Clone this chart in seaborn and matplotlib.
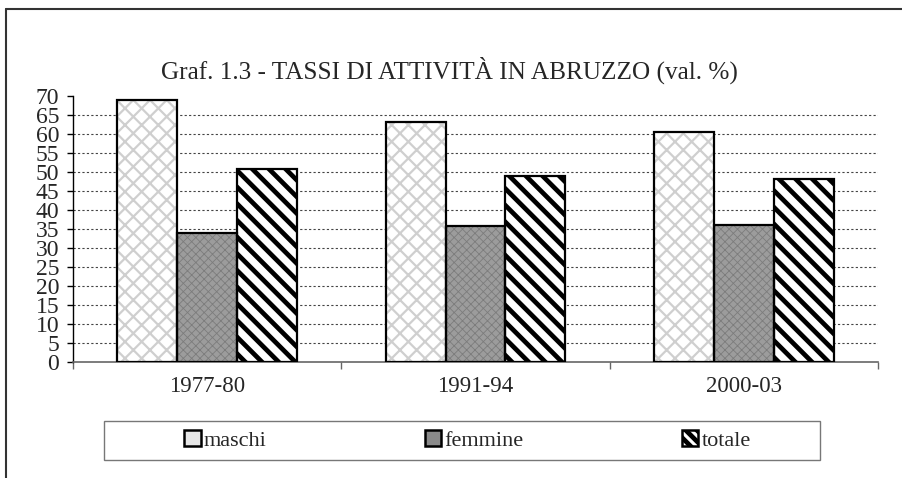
import matplotlib
matplotlib.use("Agg")
import matplotlib.pyplot as plt
from matplotlib.patches import Rectangle, Patch
from matplotlib.lines import Line2D
import seaborn as sns
import pandas as pd

# ──────────────────────────────────────────────
# DATA
# ──────────────────────────────────────────────
periods = ["1977-80", "1991-94", "2000-03"]
series = ["maschi", "femmine", "totale"]
maschi = [69.0, 63.1, 60.5]
femmine = [34.0, 35.7, 36.0]
totale = [50.8, 48.9, 48.1]
yticks = list(range(0, 75, 5))
title = "Graf. 1.3 - TASSI DI ATTIVITÀ IN ABRUZZO (val. %)"

# styling per series: facecolor, hatch, hatch colour, hatch linewidth
styles = {
    "maschi":  ("white",   "xx",     "#cfcfcf", 1.6),
    "femmine": ("#9c9c9c", "xxxx",   "#7c7c7c", 0.6),
    "totale":  ("white",   "\\\\",   "black",   3.4),
}
# legend icons (small squares, no fine texture)
legend_styles = {
    "maschi":  ("#e6e6e6", None),
    "femmine": ("#8a8a8a", None),
    "totale":  ("white", "\\\\\\"),
}

df = pd.DataFrame({
    "periodo": periods * 3,
    "serie": [s for s in series for _ in periods],
    "valore": maschi + femmine + totale,
})

sns.set_theme(style="white")
plt.rcParams["font.family"] = ["Liberation Serif", "DejaVu Serif"]
plt.rcParams["hatch.linewidth"] = 3.4

W, H = 903, 478
fig = plt.figure(figsize=(W / 100, H / 100), dpi=100)
ax = fig.add_axes([73 / W, 1 - 361.7 / H, (878 - 73) / W, (361.7 - 95.7) / H])

sns.barplot(data=df, x="periodo", y="valore", hue="serie", order=periods,
            hue_order=series, width=0.67, gap=0, legend=False, ax=ax,
            saturation=1)

# restyle bars with hatches, then outline them in black
for cont, name in zip(ax.containers, series):
    fc, hatch, hc, hlw = styles[name]
    for p in cont:
        p.set_facecolor(fc)
        p.set_hatch(hatch)
        p.set_edgecolor(hc)
        p.set_linewidth(0)
        if hasattr(p, "set_hatch_linewidth"):
            p.set_hatch_linewidth(hlw)
        ax.add_patch(Rectangle(p.get_xy(), p.get_width(), p.get_height(),
                               fill=False, edgecolor="black", lw=1.6, zorder=3))

ax.set_ylim(0, 70)
ax.set_xlim(-0.5, 2.5)
ax.set_yticks(yticks)
ax.set_yticklabels([str(v) for v in yticks], fontsize=17)
ax.tick_params(axis="y", direction="out", length=4, width=1, color="black",
               pad=6, left=True)

ax.set_xticks([-0.5, 0.5, 1.5, 2.5])
ax.set_xticklabels([])
ax.set_xticks([0, 1, 2], minor=True)
ax.set_xticklabels(periods, minor=True, fontsize=16.5)
ax.tick_params(axis="x", which="major", direction="out", length=5, width=1,
               color="#666666", bottom=True)
ax.tick_params(axis="x", which="minor", length=0, pad=10)
ax.set_xlabel("")
ax.set_ylabel("")

ax.yaxis.grid(True, linestyle=(0, (2, 2)), color="#444444", lw=0.8)
ax.get_ygridlines()[-1].set_visible(False)
ax.get_ygridlines()[0].set_visible(False)
ax.set_axisbelow(True)

for s in ["top", "right"]:
    ax.spines[s].set_visible(False)
ax.spines["left"].set_color("black")
ax.spines["left"].set_linewidth(1)
ax.spines["bottom"].set_color("#666666")
ax.spines["bottom"].set_linewidth(1.2)

fig.text(0.498, 1 - 70 / H, title, ha="center", va="center", fontsize=18.2)

# legend
handles = []
for name in series:
    fc, hatch = legend_styles[name]
    handles.append(Patch(facecolor=fc, hatch=hatch, edgecolor="black", lw=1.8,
                         label=name))
fig.legend(handles=handles, loc="center left", bbox_to_anchor=(184 / W, 1 - 440.5 / H),
           ncol=3, frameon=False, fontsize=16, handlelength=0.75, handleheight=0.7,
           handletextpad=0.15, columnspacing=7.1, borderpad=0, borderaxespad=0)
fig.add_artist(Rectangle((104 / W, 1 - 460 / H), (820 - 104) / W, 39 / H,
                         transform=fig.transFigure, fill=False,
                         edgecolor="#777777", lw=1))

# outer frame (top and left)
fig.add_artist(Line2D([6 / W, 6 / W], [0, 1 - 9 / H], transform=fig.transFigure,
                      color="#333333", lw=1.5))
fig.add_artist(Line2D([6 / W, 1], [1 - 9 / H, 1 - 9 / H], transform=fig.transFigure,
                      color="#333333", lw=1.5))

fig.savefig("out.png", dpi=100)
